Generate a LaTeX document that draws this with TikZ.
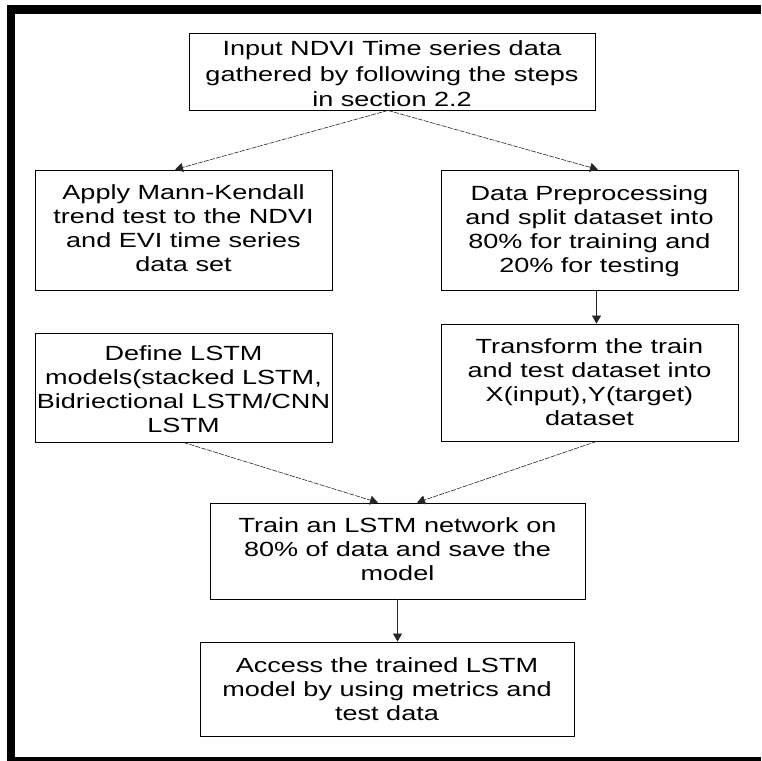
\documentclass[tikz,border=0pt]{standalone}
\usepackage{fontspec}
\setmainfont{Liberation Sans}[FakeStretch=1.32]
\usetikzlibrary{arrows.meta}
\begin{document}
\begin{tikzpicture}[x=1pt,y=-1pt,
  stepbox/.style={draw=black, line width=0.9pt, inner sep=0pt},
  steptext/.style={align=center, inner sep=0pt, font=\fontsize{20.5}{24}\selectfont},
  link/.style={line width=0.6pt, draw=black!85, -{Triangle[length=8pt,width=9pt]}},
  slant/.style={link, dash pattern=on 5pt off 1.2pt}]
\useasboundingbox (0,0) rectangle (761,761);
% frame bars
\fill[black] (7,5) rectangle (761,14);
\fill[black] (7,5) rectangle (15,761);
\fill[black] (7,757) rectangle (761,761);

% boxes
\node[stepbox, minimum width=406pt, minimum height=77pt] (n1) at (392,71.5) {};
\node[steptext, font=\fontsize{20.5}{25.5}\selectfont] (n1t) at (392,74) {Input NDVI Time series data\\gathered by following the steps\\in section 2.2};

\node[stepbox, minimum width=297pt, minimum height=120pt] (n2) at (183.5,230) {};
\node[steptext] (n2t) at (183.5,228.5) {Apply Mann-Kendall\\trend test to the NDVI\\and EVI time series\\data set};

\node[stepbox, minimum width=297pt, minimum height=120pt] (n3) at (589.5,230) {};
\node[steptext] (n3t) at (589.5,231) {Data Preprocessing\\and split dataset into\\80\% for training and\\20\% for testing};

\node[stepbox, minimum width=297pt, minimum height=109pt] (n4) at (183.5,387.5) {};
\node[steptext] (n4t) at (183.5,389.5) {Define LSTM\\models(stacked LSTM,\\Bidriectional LSTM/CNN\\LSTM};

\node[stepbox, minimum width=297pt, minimum height=117pt] (n5) at (589.5,382.5) {};
\node[steptext] (n5t) at (589.5,382.5) {Transform the train\\and test dataset into\\X(input),Y(target)\\dataset};

\node[stepbox, minimum width=375pt, minimum height=96pt] (n6) at (397.5,551) {};
\node[steptext] (n6t) at (397.5,549) {Train an LSTM network on\\80\% of data and save the\\model};

\node[stepbox, minimum width=374pt, minimum height=94pt] (n7) at (387,689) {};
\node[steptext] (n7t) at (387,689) {Access the trained LSTM\\model by using metrics and\\test data};

% connectors
\draw[slant] ([xshift=-4pt]n1.south) -- ([xshift=-8.5pt]n2.north);
\draw[slant] ([xshift=-4pt]n1.south) -- ([xshift=8.5pt]n3.north);
\draw[link] ([xshift=7pt]n3.south) -- ([xshift=7pt]n5.north);
\draw[slant] (n4.south) -- ([xshift=-19.5pt]n6.north);
\draw[slant] ([xshift=7pt]n5.south) -- ([xshift=19.5pt]n6.north);
\draw[link] (n6.south) -- (n6.south |- n7.north);
\end{tikzpicture}
\end{document}
